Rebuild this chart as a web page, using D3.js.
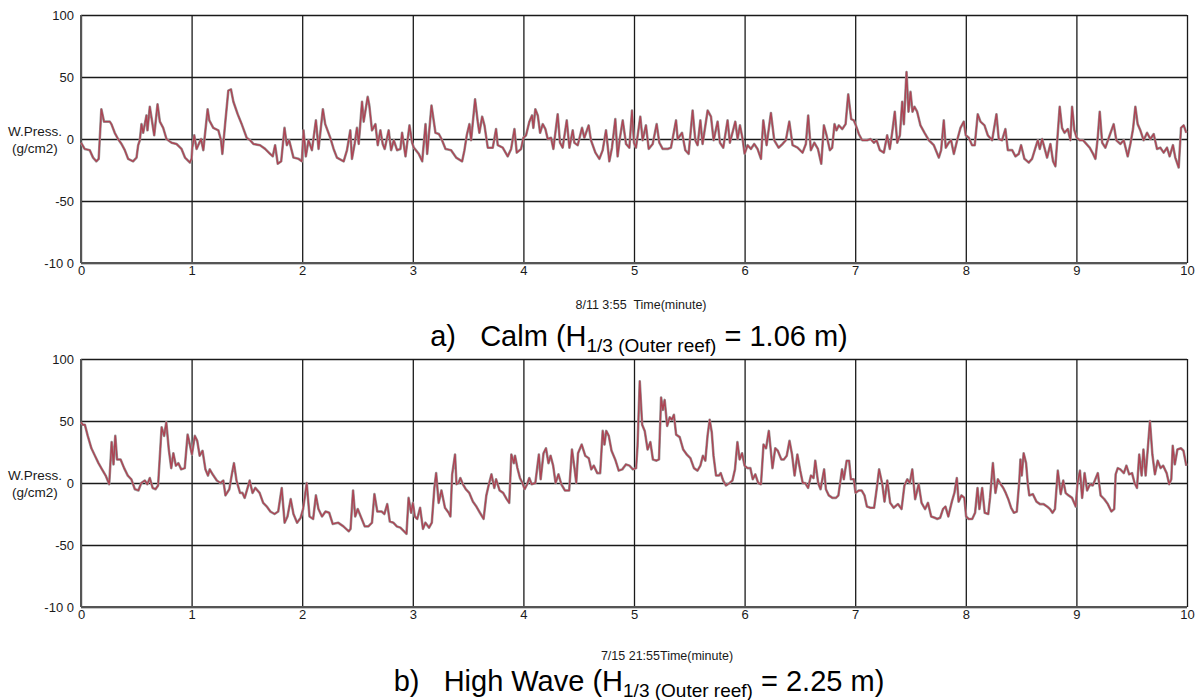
<!DOCTYPE html>
<html>
<head>
<meta charset="utf-8">
<script src="https://cdn.jsdelivr.net/npm/d3@7"></script>
<style>
  html, body { margin: 0; padding: 0; background: #ffffff; }
  svg { display: block; font-family: "Liberation Sans", Arial, sans-serif; }
  text { white-space: pre; }
</style>
</head>
<body>
<svg id="chart" width="1197" height="700"></svg>
<script>
// ---------------- DATA ----------------
const xTicks = [0, 1, 2, 3, 4, 5, 6, 7, 8, 9, 10];
const yTicks = [-100, -50, 0, 50, 100];
const yTickLabels = ["-10 0", "-50", "0", "50", "100"];
const yTitleLines = ["W.Press.", "(g/cm2)"];
const calmTimeTitle = "8/11 3:55  Time(minute)";
const highTimeTitle = "7/15 21:55Time(minute)";

// [time (minute), water pressure (g/cm2)]
const calmSeries = [
[0,-3],[.033,-8],[.079,-9],[.109,-15],[.139,-18],[.160,-16],[.184,24],[.208,14],[.260,14],[.275,12],[.305,5],[.335,0],[.366,-4],[.396,-9],[.426,-16],[.471,-18],[.502,-15],[.517,-5],[.532,-1],[.547,12],[.562,5],[.592,19],[.601,7],[.622,26],[.662,3],[.692,28],[.713,14],[.743,9],[.773,0],[.819,-3],[.864,-4],[.909,-8],[.940,-15],[.985,-19],[1.0,-16],
[1.006,-7],[1.024,3],[1.045,-8],[1.085,0],[1.106,-9],[1.145,24],[1.160,15],[1.196,9],[1.242,7],[1.266,-1],[1.278,-12],[1.302,11],[1.332,39],[1.356,40],[1.378,30],[1.417,20],[1.453,12],[1.498,1],[1.529,-1],[1.559,-4],[1.619,-5],[1.665,-8],[1.710,-12],[1.734,-14],[1.755,-5],[1.779,-20],[1.810,-18],[1.840,9],[1.861,-5],[1.882,-1],[1.921,-15],[1.967,-16],[1.997,-18],
[2.012,7],[2.033,-14],[2.057,-1],[2.088,-9],[2.124,15],[2.148,-8],[2.187,24],[2.208,12],[2.254,1],[2.284,-8],[2.314,-15],[2.375,-18],[2.405,-9],[2.435,7],[2.450,-16],[2.474,-4],[2.495,9],[2.511,-4],[2.541,30],[2.556,14],[2.592,34],[2.607,27],[2.631,7],[2.662,12],[2.683,-5],[2.707,7],[2.728,-4],[2.746,-8],[2.782,7],[2.804,-9],[2.828,-1],[2.858,-9],[2.888,-8],[2.903,5],[2.934,-14],[2.970,11],[2.994,-3],
[3.009,-7],[3.054,-12],[3.085,-18],[3.115,12],[3.130,-12],[3.169,27],[3.205,5],[3.236,4],[3.260,0],[3.296,-8],
[3.346,-9],[3.392,-15],[3.446,-18],[3.467,-9],[3.488,3],[3.512,12],[3.527,-1],[3.563,32],[3.587,14],[3.602,5],[3.627,18],[3.648,11],[3.678,-7],[3.723,-7],[3.753,8],[3.768,-5],[3.813,-7],[3.858,-14],[3.889,-8],[3.919,8],[3.940,-11],[3.979,-8],[4.0,1],
[4.024,3],[4.054,14],[4.078,19],[4.090,9],[4.108,24],[4.130,19],[4.151,5],[4.175,12],[4.199,8],[4.220,0],[4.250,1],[4.271,-8],[4.310,20],[4.331,-3],[4.355,-7],[4.392,15],[4.416,-7],[4.446,7],[4.461,-3],[4.491,-5],[4.530,9],[4.551,1],[4.590,11],[4.611,-1],[4.651,-11],[4.687,-16],[4.717,-9],[4.747,7],[4.777,-18],[4.801,-7],[4.831,16],[4.852,-14],[4.873,1],[4.898,15],[4.928,-4],[4.958,-7],[4.982,23],[5.0,-3],
[5.018,-7],[5.057,18],[5.078,-1],[5.108,11],[5.133,-8],[5.169,-4],[5.205,12],[5.229,-3],[5.259,-8],[5.304,-8],[5.334,-7],[5.380,15],[5.395,0],[5.434,5],[5.464,-9],[5.494,-12],[5.530,23],[5.554,-1],[5.575,-5],[5.600,15],[5.620,-4],[5.666,23],[5.696,18],[5.720,-1],[5.756,14],[5.777,-3],[5.807,-7],[5.846,15],[5.867,-3],[5.916,14],[5.937,0],[5.958,11],[5.982,0],[6.0,-12],
[6.027,-5],[6.057,-8],[6.087,-4],[6.117,-8],[6.148,-16],[6.169,15],[6.199,-5],[6.238,21],[6.268,-1],[6.307,-7],[6.343,-4],[6.373,-1],[6.404,14],[6.434,-5],[6.479,-7],[6.524,-11],[6.554,-4],[6.575,19],[6.599,-9],[6.630,-3],[6.663,-8],
[6.693,-20],[6.717,11],[6.741,3],[6.771,-9],[6.792,-7],[6.813,12],[6.831,7],[6.852,11],[6.883,8],[6.913,12],[6.937,36],[6.964,16],[6.988,15],[7.006,11],[7.033,4],[7.063,-1],[7.108,-1],[7.139,0],[7.169,-3],[7.193,-1],[7.223,-9],[7.259,-11],[7.289,3],[7.313,-8],[7.334,5],[7.358,22],[7.380,-3],[7.404,3],[7.425,30],[7.440,12],[7.464,54],[7.482,22],[7.500,38],[7.518,22],[7.536,26],[7.560,22],[7.590,11],[7.627,5],[7.666,-1],[7.711,-5],[7.756,-15],[7.777,-9],[7.801,15],[7.819,-7],[7.846,-3],[7.867,-1],[7.892,-12],[7.922,-1],[7.952,9],[7.982,14],[8.0,3],
[8.027,1],[8.057,-5],[8.081,-5],[8.108,20],[8.133,14],[8.169,11],[8.199,3],[8.238,-1],[8.277,20],[8.298,0],[8.328,-1],[8.358,8],[8.380,-9],[8.419,-9],[8.449,-14],[8.479,-12],[8.500,-5],[8.530,-16],[8.569,-19],[8.599,-16],[8.630,-7],[8.651,-1],[8.669,-8],[8.690,0],[8.711,-7],[8.735,-15],[8.765,-4],[8.789,-18],[8.810,-22],[8.849,26],[8.870,9],[8.892,5],[8.922,8],[8.946,-1],[8.961,26],[8.982,7],[9.003,1],
[9.030,-1],[9.060,-1],[9.090,-4],[9.120,-7],[9.151,-12],[9.172,-16],[9.193,1],[9.211,22],[9.233,-3],[9.262,-7],[9.301,3],[9.337,12],[9.361,-1],[9.398,-4],[9.428,-1],[9.464,-14],[9.488,-4],[9.512,8],[9.533,26],[9.554,12],[9.578,7],[9.608,-1],[9.639,5],[9.669,0],[9.699,4],[9.729,-8],[9.759,-7],[9.789,-11],[9.819,-7],[9.843,-14],[9.873,-5],[9.894,-15],[9.925,-23],[9.946,9],[9.970,11],[9.994,5]
];

const highWaveSeries = [
[0,49],[.016,47],[.035,47],[.061,38],[.094,28],[.126,22],[.158,16],[.19,11],[.223,6],[.255,-1],[.277,33],[.294,15],[.31,38],[.326,19],[.358,19],[.39,12],[.423,6],[.455,3],[.487,-5],[.519,-6],[.545,0],[.577,2],[.6,-1],[.622,4],[.648,-4],[.674,-5],[.697,-2],[.729,45],[.752,38],[.771,49],[.794,27],[.816,12],[.835,24],[.858,14],[.88,16],[.906,11],[.938,12],[.964,39],[.977,34],
[1.003,23],[1.029,38],[1.051,34],[1.073,22],[1.099,26],[1.125,11],[1.148,6],[1.164,11],[1.19,7],[1.228,2],[1.26,0],[1.287,2],[1.306,-10],[1.341,-5],[1.364,7],[1.383,16],[1.406,2],[1.438,-8],[1.46,-8],[1.48,-12],[1.503,-5],[1.525,2],[1.551,-8],[1.576,-4],[1.615,-8],[1.647,-16],[1.68,-19],[1.712,-23],[1.75,-25],[1.783,-23],[1.815,-4],[1.841,-32],[1.867,-27],[1.896,-13],[1.921,-25],[1.954,-32],[1.986,-28],
[2.008,-21],[2.041,0],[2.066,-27],[2.099,-29],[2.124,-10],[2.147,-21],[2.179,-27],[2.211,-23],[2.244,-24],[2.276,-33],[2.324,-32],[2.373,-35],[2.421,-39],[2.437,-37],[2.46,-6],[2.479,-27],[2.502,-21],[2.534,-28],[2.566,-35],[2.598,-35],[2.631,-32],[2.653,-9],[2.679,-23],[2.718,-23],[2.743,-25],[2.769,-17],[2.792,-31],[2.824,-32],[2.856,-35],[2.888,-36],[2.921,-39],[2.943,-41],[2.962,-12],[2.985,-24],
[3.001,-16],[3.018,-27],[3.04,-29],[3.066,-20],[3.092,-37],[3.114,-32],[3.147,-36],[3.172,-32],[3.195,-4],[3.211,8],[3.234,-16],[3.259,-6],[3.291,-20],[3.324,-24],[3.34,-27],[3.356,7],[3.382,23],[3.395,-1],[3.414,0],[3.43,4],[3.453,-1],[3.479,-5],[3.511,-8],[3.543,-15],[3.575,-19],[3.607,-24],[3.64,-29],[3.665,-10],[3.688,-1],[3.711,7],[3.737,-4],[3.753,3],[3.785,-6],[3.817,-8],[3.849,-13],[3.872,-16],[3.891,23],[3.914,16],[3.924,22],[3.946,12],[3.969,4],[3.992,0],
[4.011,-5],[4.034,-1],[4.053,4],[4.075,-1],[4.108,0],[4.14,23],[4.156,3],[4.182,24],[4.204,28],[4.227,16],[4.246,22],[4.269,14],[4.291,0],[4.317,7],[4.343,-1],[4.375,-6],[4.414,-6],[4.439,27],[4.462,12],[4.478,0],[4.494,24],[4.527,31],[4.559,22],[4.591,20],[4.614,11],[4.636,14],[4.668,8],[4.694,8],[4.717,42],[4.733,31],[4.749,42],[4.772,38],[4.797,26],[4.83,19],[4.862,10],[4.894,11],[4.927,15],[4.959,14],[4.99,11],
[5.019,12],[5.032,30],[5.052,82],[5.074,47],[5.097,42],[5.123,27],[5.148,33],[5.171,19],[5.203,18],[5.226,19],[5.245,69],[5.261,59],[5.277,67],[5.3,46],[5.323,53],[5.342,51],[5.361,55],[5.381,39],[5.413,37],[5.445,27],[5.477,23],[5.51,20],[5.542,12],[5.574,10],[5.6,14],[5.623,22],[5.645,18],[5.665,38],[5.684,51],[5.703,41],[5.719,22],[5.742,6],[5.768,6],[5.784,8],[5.806,2],[5.832,-2],[5.865,0],[5.89,2],[5.913,11],[5.935,33],[5.955,19],[5.977,24],
[6.0,14],[6.026,12],[6.052,12],[6.074,3],[6.097,7],[6.123,0],[6.148,-1],[6.171,31],[6.194,28],[6.219,42],[6.235,28],[6.252,12],[6.277,28],[6.3,26],[6.332,19],[6.355,19],[6.381,22],[6.406,34],[6.429,23],[6.452,6],[6.477,23],[6.503,10],[6.526,0],[6.548,0],[6.574,-4],[6.6,6],[6.623,4],[6.639,18],[6.665,0],[6.687,-5],[6.719,11],[6.735,-5],[6.761,-10],[6.794,-12],[6.826,-12],[6.848,-10],[6.881,11],[6.897,3],[6.923,18],[6.945,18],[6.961,3],[6.987,3],
[7.003,-8],[7.032,-6],[7.058,-6],[7.084,-10],[7.106,-19],[7.139,-20],[7.171,-20],[7.194,-5],[7.216,11],[7.245,-1],[7.265,-15],[7.29,2],[7.316,-16],[7.348,-20],[7.387,-17],[7.419,-21],[7.445,-2],[7.471,3],[7.494,0],[7.516,11],[7.542,-13],[7.574,-1],[7.6,-16],[7.632,-21],[7.658,-16],[7.687,-27],[7.719,-28],[7.742,-29],[7.768,-28],[7.794,-21],[7.816,-19],[7.842,-27],[7.874,-15],[7.897,-8],[7.919,4],[7.935,-15],[7.961,-10],[7.987,-12],
[8.003,-27],[8.026,-29],[8.058,-29],[8.084,-24],[8.106,-4],[8.123,-21],[8.148,-4],[8.171,-24],[8.203,-25],[8.219,-12],[8.245,16],[8.268,-8],[8.29,3],[8.316,-1],[8.339,-4],[8.361,-8],[8.384,-13],[8.41,-20],[8.435,-24],[8.461,-23],[8.484,2],[8.494,19],[8.506,6],[8.523,24],[8.545,16],[8.561,-1],[8.574,-10],[8.606,-9],[8.639,-15],[8.671,-17],[8.703,-17],[8.735,-19],[8.761,-21],[8.784,-24],[8.806,-21],[8.832,10],[8.858,-9],[8.881,2],[8.903,-8],[8.929,-10],[8.961,-12],[8.994,-19],
[9.01,0],[9.032,10],[9.052,-12],[9.074,8],[9.097,-6],[9.123,-1],[9.148,-2],[9.171,3],[9.194,8],[9.219,-10],[9.252,-13],[9.284,-17],[9.316,-23],[9.342,-21],[9.355,7],[9.374,12],[9.397,11],[9.429,8],[9.452,14],[9.477,7],[9.503,8],[9.526,0],[9.548,-4],[9.568,23],[9.59,6],[9.606,27],[9.626,6],[9.645,27],[9.665,50],[9.687,23],[9.71,7],[9.735,18],[9.761,12],[9.784,14],[9.816,8],[9.839,-1],[9.858,3],[9.871,30],[9.89,15],[9.913,27],[9.945,28],[9.968,26],[9.994,14]
];

// ---------------- DRAW ----------------
const svg = d3.select("#chart");
const FONT = "'Liberation Sans', Arial, sans-serif";

function panel(cfg) {
  const x = d3.scaleLinear().domain([0, 10]).range([81, 1187]);
  const y = d3.scaleLinear().domain([-100, 100]).range([cfg.bottom, cfg.top]);
  const g = svg.append("g");

  // horizontal grid + y labels
  const yAxis = d3.axisLeft(y)
    .tickValues(yTicks)
    .tickSize(-(x.range()[1] - x.range()[0]))
    .tickPadding(7)
    .tickFormat((d, i) => yTickLabels[i]);
  const ya = g.append("g").attr("transform", `translate(${x(0)},0)`).call(yAxis);
  ya.select(".domain").remove();
  ya.selectAll("line").attr("stroke", "#1a1a1a").attr("stroke-width", 1.3);
  ya.selectAll("text").attr("font-family", FONT).attr("font-size", 13).attr("fill", "#1a1a1a");

  // vertical grid + x labels
  const xAxis = d3.axisBottom(x)
    .tickValues(xTicks)
    .tickSize(-(y.range()[0] - y.range()[1]))
    .tickPadding(3)
    .tickFormat(d3.format("d"));
  const xa = g.append("g").attr("transform", `translate(0,${y(-100)})`).call(xAxis);
  xa.select(".domain").remove();
  xa.selectAll("line").attr("stroke", "#1a1a1a").attr("stroke-width", 1.3);
  xa.selectAll("text").attr("font-family", FONT).attr("font-size", 13).attr("fill", "#1a1a1a");

  // left and bottom axes (heavier, greyer)
  g.append("line").attr("x1", x(0)).attr("x2", x(0)).attr("y1", y(100)).attr("y2", y(-100))
    .attr("stroke", "#555").attr("stroke-width", 2);
  g.append("line").attr("x1", x(0)).attr("x2", x(10)).attr("y1", y(-100)).attr("y2", y(-100))
    .attr("stroke", "#555").attr("stroke-width", 2);

  // y title
  yTitleLines.forEach((t, i) => {
    g.append("text").attr("x", 35).attr("y", y(0) - 3 + i * 17)
      .attr("text-anchor", "middle").attr("font-family", FONT).attr("font-size", 13.5)
      .attr("fill", "#1a1a1a").text(t);
  });

  // the series
  const line = d3.line().x(d => x(d[0])).y(d => y(d[1]));
  g.append("path").datum(cfg.data).attr("d", line)
    .attr("fill", "none").attr("stroke", "#9a9a9a").attr("stroke-width", 2.6)
    .attr("stroke-linejoin", "round");
  g.append("path").datum(cfg.data).attr("d", line)
    .attr("fill", "none").attr("stroke", "#ad4454").attr("stroke-width", 1.4)
    .attr("stroke-linejoin", "round");

  // time title
  g.append("text").attr("x", cfg.timeX).attr("y", cfg.timeY)
    .attr("text-anchor", "middle").attr("font-family", FONT).attr("font-size", 12.5)
    .attr("fill", "#1a1a1a").text(cfg.timeTitle);

  // caption
  const cap = g.append("text").attr("x", cfg.capX).attr("y", cfg.capY)
    .attr("text-anchor", "middle").attr("font-family", FONT).attr("font-size", 29)
    .attr("fill", "#000");
  cap.append("tspan").text(cfg.capPre);
  cap.append("tspan").attr("dy", 6).attr("font-size", 19).text("1/3 (Outer reef)");
  cap.append("tspan").attr("dy", -6).text(cfg.capPost);
}

panel({ top: 15, bottom: 263, data: calmSeries, timeTitle: calmTimeTitle,
        timeX: 641, timeY: 309, capX: 639, capY: 346,
        capPre: "a)\u00a0\u00a0 Calm (H", capPost: " = 1.06 m)" });
panel({ top: 359, bottom: 607, data: highWaveSeries, timeTitle: highTimeTitle,
        timeX: 667, timeY: 660, capX: 639, capY: 691,
        capPre: "b)\u00a0\u00a0 High Wave (H", capPost: " = 2.25 m)" });
</script>
</body>
</html>
